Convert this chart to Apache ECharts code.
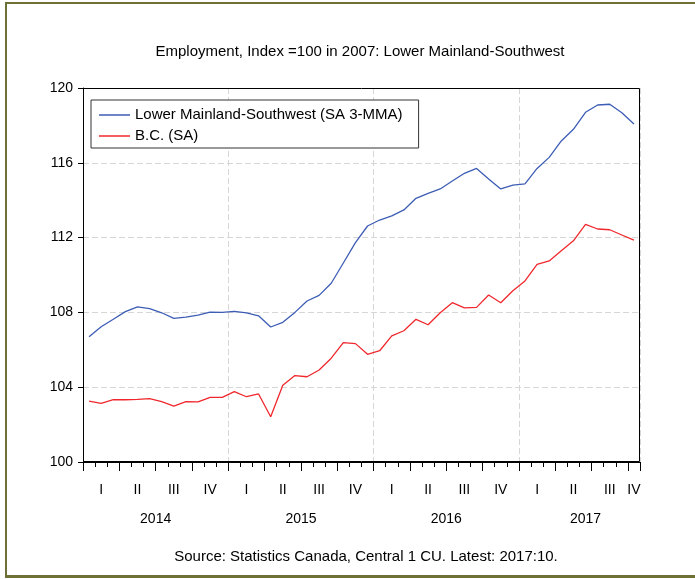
<!DOCTYPE html>
<html>
<head>
<meta charset="utf-8">
<script src="https://cdn.jsdelivr.net/npm/echarts@6/dist/echarts.min.js"></script>
<style>
  html, body { margin: 0; padding: 0; background: #fff; }
  #chart { width: 695px; height: 579px; }
</style>
</head>
<body>
<div id="chart"></div>
<script>
// categories: Jan 2014 .. Oct 2017, monthly
const years = ['2014', '2015', '2016', '2017']
const quarterLabels = ['I', 'II', 'III', 'IV']
const months = []
years.forEach(y => {
  for (let m = 1; m <= 12; m++) {
    if (y === '2017' && m > 10) break
    months.push(y + ':' + String(m).padStart(2, '0'))
  }
})

// year label positions (in months from Jan 2014)
const yearLabelPos = { 6: '2014', 18: '2015', 30: '2016', 41.5: '2017' }

// Lower Mainland-Southwest (SA 3-MMA)
const lowerMainland = [
  106.70, 107.23, 107.63, 108.04, 108.29, 108.20, 107.98, 107.68, 107.75, 107.86, 108.02, 108.00,
  108.06, 107.97, 107.82, 107.22, 107.47, 108.00, 108.61, 108.91, 109.56, 110.64, 111.73, 112.62,
  112.94, 113.16, 113.48, 114.10, 114.37, 114.60, 115.03, 115.44, 115.70, 115.13, 114.60, 114.81,
  114.87, 115.70, 116.29, 117.17, 117.79, 118.70, 119.09, 119.13, 118.68, 118.07
]

// B.C. (SA)
const bc = [
  103.26, 103.14, 103.33, 103.33, 103.35, 103.39, 103.23, 102.99, 103.23, 103.21, 103.46, 103.46,
  103.76, 103.49, 103.64, 102.42, 104.10, 104.62, 104.56, 104.92, 105.55, 106.38, 106.33, 105.76,
  105.95, 106.74, 107.02, 107.63, 107.34, 107.98, 108.52, 108.24, 108.27, 108.93, 108.52, 109.16,
  109.68, 110.57, 110.75, 111.30, 111.83, 112.71, 112.46, 112.42, 112.14, 111.86
]

const font = '"Liberation Sans", Arial, sans-serif'
const dashed = { color: '#d6d6d6', width: 1, type: [6, 3] }
const frameColor = '#6E7035'

// plot box in pixels (grid)
const gLeft = 83, gRight = 55, gTop = 88, gBottom = 117
const W = 695, H = 579

const chart = echarts.init(document.getElementById('chart'), null, { renderer: 'canvas' })

chart.setOption({
  backgroundColor: '#fff',
  animation: false,
  textStyle: { fontFamily: font, color: '#000' },
  grid: {
    left: gLeft, right: gRight, top: gTop, bottom: gBottom,
    show: false, containLabel: false
  },
  legend: {
    data: ['Lower Mainland-Southwest (SA 3-MMA)', 'B.C. (SA)'],
    orient: 'vertical',
    left: 91, top: 100,
    padding: [7, 16, 4, 8],
    itemGap: 5,
    itemWidth: 31, itemHeight: 1.5,
    icon: 'rect',
    backgroundColor: '#fff',
    borderColor: '#333', borderWidth: 1,
    textStyle: { fontFamily: font, fontSize: 15, lineHeight: 16, color: '#000' }
  },
  xAxis: [
    {
      type: 'category',
      data: months,
      boundaryGap: true,
      position: 'bottom',
      axisLine: { lineStyle: { color: '#000', width: 1 } },
      axisTick: { show: true, interval: 0, length: 5, lineStyle: { color: '#000' } },
      axisLabel: {
        interval: (i) => i % 3 === 1 || i === months.length - 1,
        formatter: (v, i) => quarterLabels[Math.floor((i % 12) / 3)],
        margin: 21,
        fontSize: 14,
        color: '#000',
        fontFamily: font
      },
      splitLine: {
        show: true,
        interval: (i) => i > 0 && i % 12 === 0,
        lineStyle: dashed
      }
    },
    {
      type: 'category',
      data: months,
      boundaryGap: true,
      position: 'bottom',
      axisLine: { show: false },
      axisTick: { show: true, interval: (i) => i % 3 === 0, length: 9, lineStyle: { color: '#000' } },
      axisLabel: { show: false },
      splitLine: { show: false }
    },
    {
      type: 'value',
      min: 0, max: months.length, interval: 0.5,
      position: 'bottom',
      axisLine: { show: false },
      axisTick: { show: false },
      splitLine: { show: false },
      axisLabel: {
        formatter: (v) => yearLabelPos[v] || '',
        margin: 50,
        fontSize: 14,
        color: '#000',
        fontFamily: font,
        showMinLabel: false, showMaxLabel: false
      }
    }
  ],
  yAxis: {
    type: 'value',
    min: 100, max: 120, interval: 4,
    axisLine: { show: true, lineStyle: { color: '#000', width: 1 } },
    axisTick: { show: true, length: 5, lineStyle: { color: '#000' } },
    axisLabel: { margin: 10, fontSize: 14, color: '#000', fontFamily: font },
    splitLine: { show: true, showMinLine: false, showMaxLine: false, lineStyle: dashed }
  },
  series: [
    {
      name: 'Lower Mainland-Southwest (SA 3-MMA)',
      type: 'line',
      data: lowerMainland,
      xAxisIndex: 0,
      symbol: 'none',
      color: '#3D5DB5',
      lineStyle: { width: 1.3, color: '#3D5DB5' }
    },
    {
      name: 'B.C. (SA)',
      type: 'line',
      data: bc,
      xAxisIndex: 0,
      symbol: 'none',
      color: '#F0282D',
      lineStyle: { width: 1.3, color: '#F0282D' }
    }
  ],
  graphic: [
    {
      type: 'text', x: 360, y: 52,
      style: {
        text: 'Employment, Index =100 in 2007: Lower Mainland-Southwest',
        font: '15px ' + font, fill: '#000', align: 'center', verticalAlign: 'middle'
      }
    },
    {
      type: 'text', x: 366, y: 557,
      style: {
        text: 'Source: Statistics Canada, Central 1 CU. Latest: 2017:10.',
        font: '15px ' + font, fill: '#000', align: 'center', verticalAlign: 'middle'
      }
    },
    // plot box
    {
      type: 'rect', z: 100,
      shape: { x: gLeft + 0.5, y: gTop + 0.5, width: W - gLeft - gRight - 1, height: H - gTop - gBottom - 1 },
      style: { fill: null, stroke: '#000', lineWidth: 1 }
    },
    // outer frame
    { type: 'line', z: 100, shape: { x1: 6, y1: 2, x2: 6, y2: 578 }, style: { stroke: frameColor, lineWidth: 2 } },
    { type: 'line', z: 100, shape: { x1: 5, y1: 3, x2: 695, y2: 3 }, style: { stroke: frameColor, lineWidth: 2 } },
    { type: 'line', z: 100, shape: { x1: 5, y1: 576.5, x2: 695, y2: 576.5 }, style: { stroke: frameColor, lineWidth: 3 } }
  ]
})
</script>
</body>
</html>
